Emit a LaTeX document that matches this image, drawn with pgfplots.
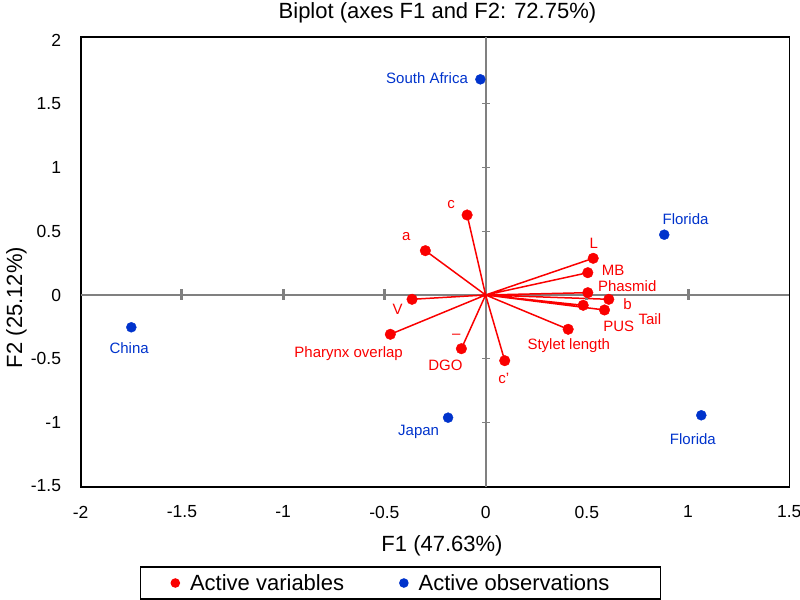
\documentclass[border=0pt]{standalone}
\usepackage{fontspec}
\setmainfont{Liberation Sans}
\usepackage{pgfplots}
\pgfplotsset{compat=1.18}
\definecolor{vred}{RGB}{250,0,0}
\definecolor{oblue}{RGB}{0,51,204}
\definecolor{axgray}{RGB}{128,128,128}
\newcommand{\lbl}{\fontsize{15bp}{18bp}\selectfont}
\newcommand{\bigfont}{\fontsize{22bp}{26bp}\selectfont}
\begin{document}
\begin{tikzpicture}
\useasboundingbox (0,0) rectangle (800bp,600bp);
\begin{axis}[
  at={(80.7bp,113.3bp)}, anchor=south west,
  scale only axis, width=708.6bp, height=449.4bp,
  xmin=-2, xmax=1.5, ymin=-1.505, ymax=2.023,
  axis line style={black, line width=1.6bp},
  major tick length=0pt,
  xtick={-2,-1.5,-1,-0.5,0,0.5,1,1.5},
  xticklabels={-2,-1.5,-1,-0.5,0,0.5,1,1.5},
  ytick={-1.5,-1,-0.5,0,0.5,1,1.5,2},
  yticklabels={-1.5,-1,-0.5,0,0.5,1,1.5,2},
  tick label style={font=\fontsize{17.5bp}{21bp}\selectfont, inner sep=0pt},
  xticklabel shift=19bp, yticklabel shift=19.5bp,
  title={Biplot (axes F1 and F2: 72.75\%)},
  title style={at={(axis description cs:0.5035,1.0423)}, anchor=base, inner sep=0pt, yshift=-6pt, font=\bigfont},
  xlabel={F1 (47.63\%)},
  xlabel style={at={(axis description cs:0.5099,-0.1453)}, anchor=base, inner sep=0pt, font=\bigfont},
  ylabel={F2 (25.12\%)},
  ylabel style={at={(axis description cs:-0.0828,0.3988)}, anchor=base, inner sep=0pt, font=\bigfont},
  legend columns=2,
  legend style={at={(axis description cs:0.4513,-0.2143)}, anchor=center, draw=black, line width=1.5bp,
    inner xsep=30bp, inner ysep=7.5bp, font=\bigfont,
    /tikz/every odd column/.append style={column sep=10bp},
    /tikz/every even column/.append style={column sep=55bp},
    nodes={inner sep=0pt}},
  legend image code/.code={\fill[#1] (0bp,0bp) circle (4bp);},
  unbounded coords=jump,
  clip=false,
]
% internal axes
\addplot[axgray, line width=2.5bp, forget plot] coordinates {(-2,0) (1.5,0)};
\addplot[axgray, line width=2bp, forget plot] coordinates {(0,-1.505) (0,2.023)};
\addplot[only marks, mark=|, mark size=5.5bp, mark options={axgray, line width=3bp}, forget plot]
  coordinates {(-1.5,0) (-1,0) (-0.5,0) (0.5,0) (1,0)};
\addplot[only marks, mark=-, mark size=4bp, mark options={axgray, line width=1bp}, forget plot]
  coordinates {(0,-1) (0,-0.5) (0,0.5) (0,1) (0,1.5)};
% vectors
\addplot[vred, line width=1.5bp, forget plot] coordinates {
 (0,0) (-0.0914,0.628) (nan,nan)
 (0,0) (-0.2976,0.348) (nan,nan)
 (0,0) (-0.3633,-0.0338) (nan,nan)
 (0,0) (-0.4706,-0.3085) (nan,nan)
 (0,0) (-0.1196,-0.4215) (nan,nan)
 (0,0) (0.0944,-0.5157) (nan,nan)
 (0,0) (0.4078,-0.2692) (nan,nan)
 (0,0) (0.5314,0.288) (nan,nan)
 (0,0) (0.5047,0.175) (nan,nan)
 (0,0) (0.5047,0.018) (nan,nan)
 (0,0) (0.6085,-0.0338) (nan,nan)
 (0,0) (0.4820,-0.0808) (nan,nan)
 (0,0) (0.5872,-0.1177)
};
\addplot[only marks, mark=*, mark size=5.3bp, color=vred, mark options={draw=vred, fill=vred}] coordinates {
 (-0.0914,0.628) (-0.2976,0.348) (-0.3633,-0.0338) (-0.4706,-0.3085) (-0.1196,-0.4215)
 (0.0944,-0.5157) (0.4078,-0.2692) (0.5314,0.288) (0.5047,0.175) (0.5047,0.018)
 (0.6085,-0.0338) (0.4820,-0.0808) (0.5872,-0.1177)
};
\addlegendentry{Active variables}
\addplot[only marks, mark=*, mark size=5bp, color=oblue, mark options={draw=oblue, fill=oblue}] coordinates {
 (-0.0257,1.693) (-1.7499,-0.2535) (-0.1854,-0.9631) (0.8824,0.4733) (1.0653,-0.9443)
};
\addlegendentry{Active observations\hspace*{21bp}\null}
% labels
\begin{scope}[every node/.style={inner sep=0pt, font=\lbl, text=vred}]
\node at (axis cs:-0.1705,0.7064) {c};
\node at (axis cs:-0.3915,0.4576) {a};
\node at (axis cs:-0.4345,-0.1122) {V};
\node at (axis cs:-0.6767,-0.4576) {Pharynx overlap};
\node at (axis cs:-0.1443,-0.3273) {–};
\node at (axis cs:-0.1987,-0.5549) {DGO};
\node at (axis cs:0.0895,-0.6538) {c'};
\node at (axis cs:0.4108,-0.4003) {Stylet length};
\node at (axis cs:0.5344,0.4058) {L};
\node at (axis cs:0.6303,0.1907) {MB};
\node at (axis cs:0.6995,0.0730) {Phasmid};
\node at (axis cs:0.7009,-0.0730) {b};
\node at (axis cs:0.6579,-0.2433) {PUS};
\node at (axis cs:0.8112,-0.1907) {Tail};
\end{scope}
\begin{scope}[every node/.style={inner sep=0pt, font=\lbl, text=oblue}]
\node at (axis cs:-0.2892,1.7009) {South Africa};
\node at (axis cs:-1.7608,-0.4160) {China};
\node at (axis cs:-0.3307,-1.0777) {Japan};
\node at (axis cs:0.9877,0.5942) {Florida};
\node at (axis cs:1.0237,-1.1279) {Florida};
\end{scope}
\end{axis}
\end{tikzpicture}
\end{document}
